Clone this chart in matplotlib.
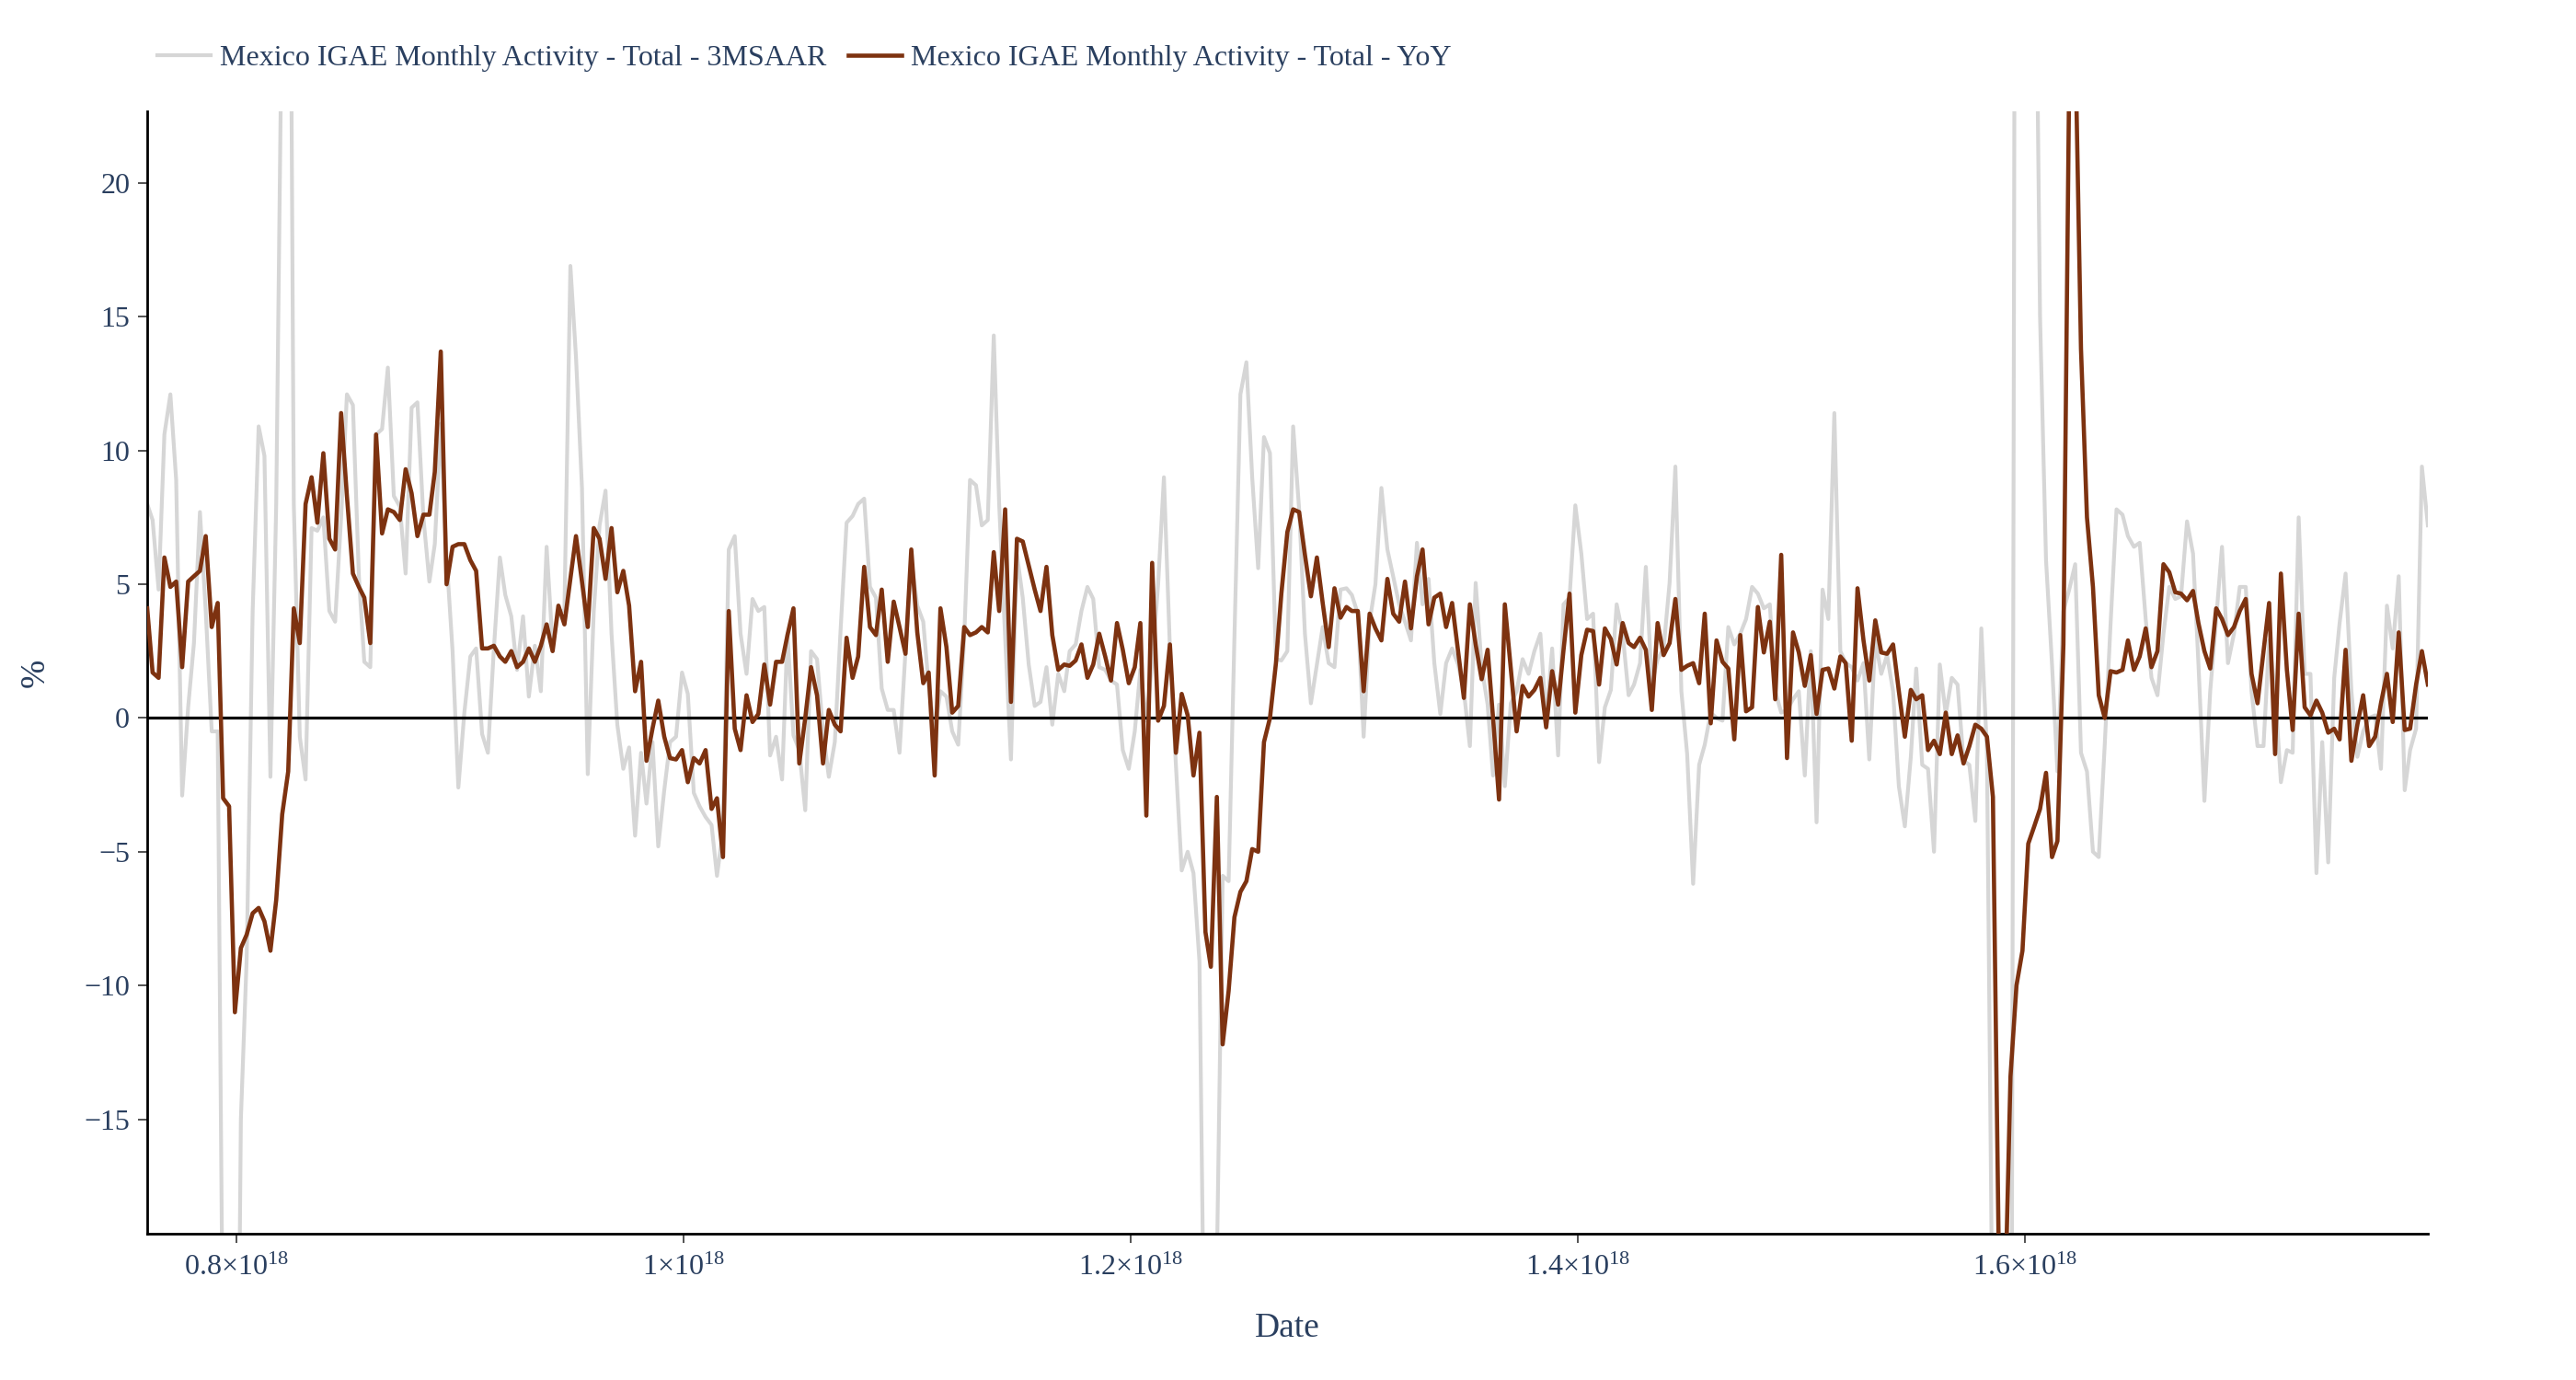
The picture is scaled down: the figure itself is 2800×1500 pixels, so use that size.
import numpy as np
import pandas as pd
import matplotlib
matplotlib.use("Agg")
import matplotlib.pyplot as plt

# ---------------- data ----------------
start_month = "1994-01-01"

series_names = ["Mexico IGAE Monthly Activity - Total - 3MSAAR",
                "Mexico IGAE Monthly Activity - Total - YoY"]

saar_3m = [
    8.0, 7.4, 4.8, 10.6, 12.1, 8.9, -2.9, 0.4, 2.8, 7.7, 4.0, -0.5, -0.5, -25, -45, -40, -15, -9, 4, 10.9,
    9.8, -2.2, 8, 28, 45, 8, -0.7, -2.3, 7.1, 7.0, 7.5, 4.0, 3.6, 7.5, 12.1, 11.7, 5.3, 2.1, 1.9, 10.6,
    10.8, 13.1, 8.3, 7.9, 5.4, 11.6, 11.8, 7.5, 5.1, 6.5, 11.0, 6.0, 2.5, -2.6, 0.2, 2.3, 2.6, -0.6, -1.3, 2.6,
    6.0, 4.6, 3.8, 1.8, 3.8, 0.8,
    2.7, 1.0, 6.4, 2.7, 4.0, 4.0, 16.9, 13.5, 8.6, -2.1, 4.0, 7.2, 8.5, 3.15, -0.25, -1.9, -1.1, -4.4, -1.3, -3.2,
    -0.9, -4.8, -2.7, -0.9, -0.7, 1.7, 0.9, -2.8, -3.3, -3.7, -4.0, -5.9, -4.2, 6.3, 6.8, 3.15, 1.65, 4.45, 4.0, 4.15,
    -1.4, -0.7, -2.3, 3.15, -0.65, -1.2, -3.45, 2.5, 2.2, -0.5, -2.2, -0.9, 3.3, 7.3, 7.55, 8.0, 8.2, 4.9, 4.5, 1.1,
    0.3, 0.3, -1.3, 2.5, 5.9, 4.2, 3.6,
    1.2, -0.5, 1.0, 0.8, -0.5, -1.0, 3.0, 8.9, 8.7, 7.2, 7.4, 14.3, 8.0, 3.0, -1.55, 6.1, 4.5, 2.0, 0.45, 0.6,
    1.9, -0.25, 1.65, 1.0, 2.5, 2.75, 4.0, 4.9, 4.45, 1.9, 1.8, 1.4, 1.25, -1.2, -1.9, -0.5, 1.8, -0.1, 2.05, 5.0,
    9.0, 2.6, -1.75, -5.7, -5.0, -5.8, -9.1, -28, -24, -20.5, -5.9, -6.1, 3.0, 12.1, 13.3, 9.0, 5.6, 10.5, 9.9, 2.2,
    2.15, 2.5, 10.9, 7.8, 3.15, 0.55,
    2.0, 3.4, 2.05, 1.9, 4.8, 4.85, 4.6, 3.9, -0.7, 3.6, 5.0, 8.6, 6.3, 5.3, 4.25, 3.6, 2.9, 6.55, 4.25, 5.2,
    2.05, 0.15, 2.05, 2.6, 2.0, 1.0, -1.05, 5.05, 1.9, 0.5, -2.15, 0.5, -2.55, 0.55, 1.0, 2.2, 1.65, 2.5, 3.15, -0.1,
    2.6, -1.4, 4.25, 4.5, 7.95, 6.15, 3.7, 3.9, -1.65, 0.4, 1.05, 4.25, 3.15, 0.85, 1.25, 2.05, 5.65, 1.25, 2.2, 2.6,
    5.05, 9.4, 1.0, -1.35, -6.2, -1.75, -1.0,
    0.2, 0.0, -0.1, 3.4, 2.75, 3.15, 3.7, 4.9, 4.65, 4.1, 4.25, 1.0, 0.2, 0.3, 0.7, 1.0, -2.15, 2.5, -3.9, 4.8,
    3.7, 11.4, 2.5, 2.05, 1.9, 1.4, 2.05, -1.55, 2.9, 1.65, 2.35, 1.0, -2.55, -4.05, -1.45, 1.85, -1.75, -1.9, -5.0, 2.0,
    0.15, 1.5, 1.25, -1.6, -1.75, -3.85, 3.35, -1.2, -25, -60, -70, -45, 60, 90, 70, 35, 15, 5.9, 2.0, -2.0,
    4.0, 4.8, 5.75, -1.3, -2.0, -5.0,
    -5.2, -1.0, 3.5, 7.8, 7.6, 6.8, 6.4, 6.55, 3.7, 1.5, 0.85, 3.15, 4.9, 4.45, 4.55, 7.35, 6.15, 2.05, -3.1, 1.0,
    3.7, 6.4, 2.05, 3.15, 4.9, 4.9, 1.0, -1.05, -1.05, 2.9, 1.0, -2.4, -1.2, -1.3, 7.5, 1.65, 1.65, -5.8, -0.9, -5.4,
    1.5, 3.55, 5.4, 1.0, -1.45, -0.5, 0.0, 0.1, -1.9, 4.2, 2.6, 5.3, -2.7, -1.2, -0.4, 9.4, 7.2,
]

yoy = [
    4.1, 1.7, 1.5, 6.0, 4.9, 5.1, 1.9, 5.1, 5.3, 5.5, 6.8, 3.4, 4.3, -3.0, -3.3, -11.0, -8.6, -8.1, -7.3, -7.1,
    -7.6, -8.7, -6.8, -3.6, -2.0, 4.1, 2.8, 8.0, 9.0, 7.3, 9.9, 6.7, 6.3, 11.4, 8.3, 5.4, 4.9, 4.5, 2.8, 10.6,
    6.9, 7.8, 7.7, 7.4, 9.3, 8.4, 6.8, 7.6, 7.6, 9.2, 13.7, 5.0, 6.4, 6.5, 6.5, 5.9, 5.5, 2.6, 2.6, 2.7,
    2.3, 2.1, 2.5, 1.9, 2.1, 2.6,
    2.1, 2.7, 3.5, 2.5, 4.2, 3.5, 5.2, 6.8, 5.1, 3.4, 7.1, 6.7, 5.2, 7.1, 4.7, 5.5, 4.2, 1.0, 2.1, -1.6,
    -0.4, 0.65, -0.7, -1.5, -1.55, -1.2, -2.4, -1.5, -1.7, -1.2, -3.4, -3.0, -5.2, 4.0, -0.4, -1.2, 0.85, -0.15, 0.15, 2.0,
    0.5, 2.1, 2.1, 3.1, 4.1, -1.7, 0.0, 1.9, 0.85, -1.7, 0.3, -0.25, -0.5, 3.0, 1.5, 2.3, 5.65, 3.4, 3.1, 4.8,
    2.1, 4.35, 3.4, 2.4, 6.3, 3.2, 1.3,
    1.7, -2.15, 4.1, 2.65, 0.2, 0.45, 3.4, 3.1, 3.2, 3.4, 3.2, 6.2, 4.0, 7.8, 0.6, 6.7, 6.6, 5.7, 4.8, 4.0,
    5.65, 3.1, 1.8, 2.0, 1.95, 2.15, 2.75, 1.5, 2.0, 3.15, 2.3, 1.4, 3.55, 2.55, 1.3, 1.9, 3.55, -3.65, 5.8, -0.1,
    0.45, 2.75, -1.3, 0.9, 0.1, -2.15, -0.55, -8.0, -9.3, -2.95, -12.2, -10.2, -7.45, -6.5, -6.1, -4.9, -5.0, -0.9, 0.0, 2.05,
    4.65, 6.95, 7.8, 7.7, 6.1, 4.55,
    6.0, 4.3, 2.65, 4.85, 3.75, 4.15, 4.0, 4.0, 1.0, 3.9, 3.35, 2.9, 5.2, 3.9, 3.6, 5.1, 3.35, 5.3, 6.3, 3.5,
    4.5, 4.65, 3.4, 4.3, 2.5, 0.75, 4.25, 2.75, 1.45, 2.55, 0.0, -3.05, 4.25, 1.85, -0.5, 1.2, 0.8, 1.05, 1.5, -0.35,
    1.75, 0.5, 2.55, 4.65, 0.2, 2.35, 3.3, 3.25, 1.25, 3.35, 2.95, 2.0, 3.55, 2.8, 2.65, 3.0, 2.55, 0.3, 3.55, 2.35,
    2.8, 4.45, 1.8, 1.95, 2.05, 1.3, 3.9,
    -0.2, 2.9, 2.1, 1.85, -0.8, 3.1, 0.25, 0.4, 4.15, 2.45, 3.6, 0.7, 6.1, -1.5, 3.2, 2.45, 1.2, 2.35, 0.15, 1.8,
    1.85, 1.1, 2.3, 2.05, -0.85, 4.85, 2.9, 1.4, 3.65, 2.45, 2.4, 2.75, 1.0, -0.7, 1.05, 0.7, 0.85, -1.2, -0.85, -1.35,
    0.2, -1.35, -0.65, -1.7, -1.05, -0.25, -0.4, -0.7, -2.95, -19.9, -22.5, -13.4, -10.0, -8.7, -4.7, -4.05, -3.4, -2.05, -5.2, -4.6,
    2.75, 24.0, 25.5, 13.8, 7.5, 4.9,
    0.85, 0.0, 1.75, 1.7, 1.8, 2.9, 1.8, 2.3, 3.35, 1.9, 2.5, 5.75, 5.45, 4.7, 4.65, 4.4, 4.75, 3.55, 2.5, 1.85,
    4.1, 3.7, 3.1, 3.4, 4.0, 4.45, 1.65, 0.55, 2.5, 4.3, -1.35, 5.4, 1.8, -0.45, 3.9, 0.4, 0.1, 0.65, 0.2, -0.55,
    -0.4, -0.8, 2.55, -1.6, -0.25, 0.85, -1.05, -0.7, 0.55, 1.65, -0.15, 3.2, -0.45, -0.4, 1.25, 2.5, 1.25,
]

x_ticks = [0.8e18, 1.0e18, 1.2e18, 1.4e18, 1.6e18]
x_tick_labels = [r"$0.8{\times}10^{18}$", r"$1{\times}10^{18}$", r"$1.2{\times}10^{18}$",
                 r"$1.4{\times}10^{18}$", r"$1.6{\times}10^{18}$"]
y_ticks = [-15, -10, -5, 0, 5, 10, 15, 20]
y_range = (-19.28, 22.68)
x_title = "Date"
y_title = "%"

# ---------------- style ----------------
TXT = "#2a3f5f"
GRAY = "#d6d6d6"
BROWN = "#7d3210"

plt.rcParams["font.family"] = ["Liberation Serif", "DejaVu Serif"]
plt.rcParams["mathtext.fontset"] = "custom"
plt.rcParams["mathtext.rm"] = "Liberation Serif"
plt.rcParams["mathtext.it"] = "Liberation Serif:italic"
plt.rcParams["mathtext.bf"] = "Liberation Serif:bold"

dates = pd.date_range(start_month, periods=len(yoy), freq="MS") + pd.offsets.MonthEnd(0)
x = dates.values.astype("datetime64[ns]").astype(np.int64).astype(float)

fig = plt.figure(figsize=(28, 15), dpi=100)
W, H = 2800, 1500
ax = fig.add_axes([160 / W, 1 - 1341 / H, 2479 / W, 1220 / H])

l1, = ax.plot(x, saar_3m, color=GRAY, lw=3.0, solid_joinstyle="round", zorder=2)
ax.axhline(0, color="black", lw=2.3, zorder=3)
l2, = ax.plot(x, yoy, color=BROWN, lw=3.3, solid_joinstyle="round", zorder=4)

ax.set_xlim(x[0], x[-1])
ax.set_ylim(*y_range)
ax.set_xticks(x_ticks)
ax.set_xticklabels(x_tick_labels)
ax.set_yticks(y_ticks)

for s in ["top", "right"]:
    ax.spines[s].set_visible(False)
for s in ["left", "bottom"]:
    ax.spines[s].set_color("black")
    ax.spines[s].set_linewidth(2.0)

ax.tick_params(axis="both", direction="out", length=7.5, width=1.3, color="#444444",
               labelsize=23, labelcolor=TXT)
ax.tick_params(axis="y", pad=6)
ax.tick_params(axis="x", pad=9)

ax.set_xlabel(x_title, fontsize=27, color=TXT)
ax.xaxis.label.set_va("center")
ax.xaxis.set_label_coords(0.5, -0.0845)
ax.set_ylabel(y_title, fontsize=27, color=TXT)
ax.yaxis.label.set_va("center")
ax.yaxis.set_label_coords(-0.049, 0.5)

fig.legend(handles=[l1, l2], labels=series_names, loc="center left",
           bbox_to_anchor=(171 / W, 1 - 63 / H), ncol=2, frameon=False,
           handlelength=1.82, handletextpad=0.32, columnspacing=0.72,
           borderpad=0, borderaxespad=0, fontsize=23, labelcolor=TXT)

fig.savefig("out.png", dpi=100, facecolor="white")
